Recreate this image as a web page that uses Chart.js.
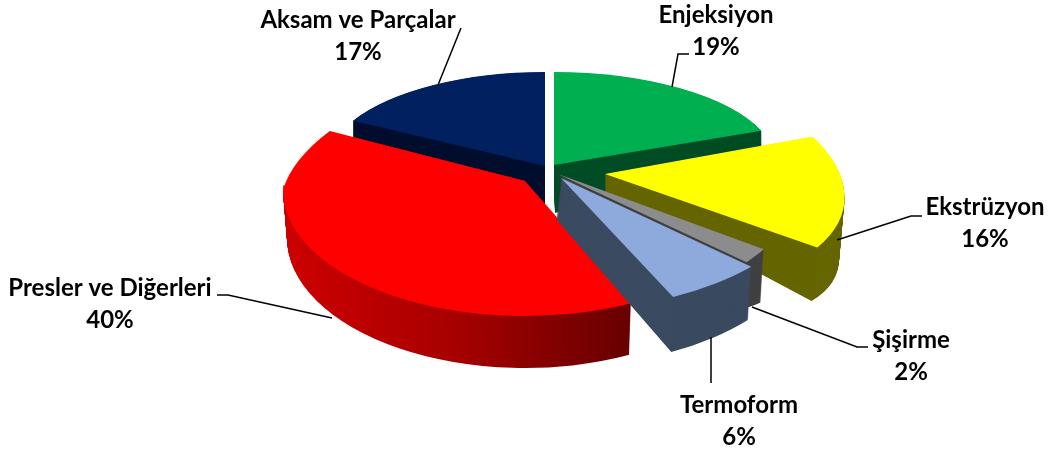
<!DOCTYPE html>
<html>
<head>
<meta charset="utf-8">
<style>
    html, body { margin: 0; padding: 0; background: #fff; }
    #wrap { width: 1050px; height: 455px; position: relative; }
</style>
<script src="https://cdn.jsdelivr.net/npm/chart.js@4/dist/chart.umd.js"></script>
</head>
<body>
<div id="wrap"><canvas id="myChart" width="1050" height="455"></canvas></div>
<script>
// pay verileri
var categories = ['Enjeksiyon', 'Ekstrüzyon', 'Şişirme', 'Termoform', 'Presler ve Diğerleri', 'Aksam ve Parçalar'];
var values = [19, 16, 2, 6, 40, 17];
var topColors = ['#00B050', '#FFFF00', '#8C8C8C', '#8EA9DB', '#FF0000', '#002060'];
var wallColors = ['#004D26', '#666600', '#404040', '#3A4A60', null, '#000F2E'];

// 3B gorunum: her dilim icin ust ve alt yuzun izdusumu (merkeze gore kayma + eksenler)
// buyuk kirmizi dilimde perspektif icin on kisim (split dereceye kadar), arka kisim ve uc ayri
var views = [
    { top: [1, -1, 223, 0, 0, -93], bottom: [2, 47, 222, -35, 0, -93] },
    { top: [52, 8, 237, 6, -35, -117], bottom: [52, 25, 232, 51, -32, -117] },
    { top: [5, 8, 239, -3, -21, -132], bottom: [5, 54, 218, 40, -45, -85] },
    { top: [8, 12, 259, -3, -2, -133], bottom: [3, 53, 258, 0, -6, -147] },
    {
        top: [-28, 24, 242, 0, 0, -126], bottom: [-28, 72, 238, 0, 0, -130], split: 270, lead: 0.8,
        back: [-28, 15, 242, -9, 35, -120], tip: [-28, 15, 170, -18, -13, -114]
    },
    { top: [-8, 0, 219, 0, 0, -94], bottom: [-8, 42, 219, 28, 0, -94] }
];
var drawOrder = [5, 0, 4, 1, 2, 3];

// etiket yazi tabanlari ve kilavuz cizgileri
var labelPos = [[716, 23], [985, 215], [911, 348], [739, 413], [110, 296], [358, 28]];
var leaders = [
    [[672, 87], [678, 54], [689, 54]],
    [[837, 240], [911, 216], [922, 216]],
    [[752, 307], [857, 347], [868, 347]],
    [[711, 337], [711, 383]],
    [[332, 318], [228, 295], [217, 295]],
    [[438, 85], [461, 28]]
];

function arcOptions(color) {
    return {
        backgroundColor: color, borderColor: 'transparent', borderWidth: 0, borderAlign: 'center',
        borderRadius: 0, borderJoinStyle: 'round', spacing: 0, offset: 0, circular: true, selfJoin: false
    };
}

function toAngle(deg) {
    return (deg - 90) * Math.PI / 180;
}

function toDegrees(angle) {
    return angle * 180 / Math.PI + 90;
}

// from/to: dilimin sadece bir kismini cizmek icin (derece, tepeden saat yonunde)
function drawFace(ctx, el, face, color, from, to) {
    var saved = el.options;
    var savedStart = el.startAngle;
    var savedEnd = el.endAngle;
    var r = el.outerRadius;
    el.options = arcOptions(color);
    if (from != null) el.startAngle = toAngle(from);
    if (to != null) el.endAngle = toAngle(to);
    ctx.save();
    ctx.transform(face[2] / r, face[3] / r, -face[4] / r, -face[5] / r, el.x + face[0], el.y + face[1]);
    ctx.translate(-el.x, -el.y);
    el.draw(ctx);
    ctx.restore();
    el.options = saved;
    el.startAngle = savedStart;
    el.endAngle = savedEnd;
}

var pie3d = {
    id: 'pie3d',
    beforeDatasetsDraw: function (chart) {
        var ctx = chart.ctx;
        var arcs = chart.getDatasetMeta(0).data;

        var redWall = ctx.createLinearGradient(283, 0, 630, 0);
        redWall.addColorStop(0, '#E60000');
        redWall.addColorStop(0.35, '#C80000');
        redWall.addColorStop(0.65, '#A50000');
        redWall.addColorStop(1, '#650000');

        drawOrder.forEach(function (i) {
            var view = views[i];
            var steps = 70;
            var from = view.lead ? toDegrees(arcs[i].startAngle) - view.lead : null;
            // yan duvar: alt yuzden uste dogru
            for (var k = steps; k > 0; k--) {
                var t = k / steps;
                var face = view.top.map(function (v, n) { return v + (view.bottom[n] - v) * t; });
                drawFace(ctx, arcs[i], face, wallColors[i] || redWall, from, view.split);
            }
            // on parca ile arka parca arasinda bosluk kalmasin diye 2 derece bindiriyoruz
            drawFace(ctx, arcs[i], view.top, topColors[i], from, view.split ? view.split + 2 : null);
            if (view.back) {
                drawFace(ctx, arcs[i], view.back, topColors[i], view.split);
                drawFace(ctx, arcs[i], view.tip, topColors[i]);
            }
        });

        // kilavuz cizgileri
        ctx.save();
        ctx.strokeStyle = '#000';
        ctx.lineWidth = 1.5;
        leaders.forEach(function (line) {
            ctx.beginPath();
            line.forEach(function (p, n) {
                if (n == 0) ctx.moveTo(p[0], p[1]); else ctx.lineTo(p[0], p[1]);
            });
            ctx.stroke();
        });

        // etiketler
        ctx.fillStyle = '#000';
        ctx.font = 'bold 24px Lato';
        ctx.textAlign = 'center';
        ctx.textBaseline = 'alphabetic';
        categories.forEach(function (name, i) {
            ctx.fillText(name, labelPos[i][0], labelPos[i][1]);
            ctx.fillText(values[i] + '%', labelPos[i][0], labelPos[i][1] + 32);
        });
        ctx.restore();
        return false;
    }
};

new Chart(document.getElementById('myChart'), {
    type: 'pie',
    data: {
        labels: categories,
        datasets: [{ data: values, backgroundColor: topColors, borderWidth: 0 }]
    },
    options: {
        responsive: false,
        animation: false,
        rotation: 0,
        layout: { padding: { left: 56, right: 0, top: 0, bottom: 123 } },
        plugins: { legend: { display: false }, tooltip: { enabled: false } }
    },
    plugins: [pie3d]
});
</script>
</body>
</html>
